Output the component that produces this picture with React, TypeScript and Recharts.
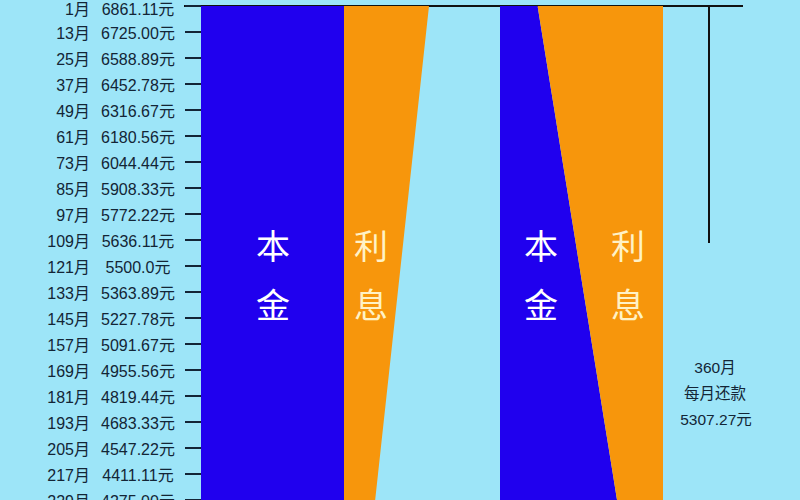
import { AreaChart, Area, XAxis, YAxis } from "recharts";

// 等额本金: month number and the monthly payment printed beside it
const months = [1, 13, 25, 37, 49, 61, 73, 85, 97, 109, 121, 133, 145, 157, 169, 181, 193, 205, 217, 229];
const payments = [
  6861.11, 6725.0, 6588.89, 6452.78, 6316.67, 6180.56, 6044.44, 5908.33, 5772.22, 5636.11,
  5500.0, 5363.89, 5227.78, 5091.67, 4955.56, 4819.44, 4683.33, 4547.22, 4411.11, 4275.0,
];
const paymentLabels = [
  "6861.11", "6725.00", "6588.89", "6452.78", "6316.67", "6180.56", "6044.44", "5908.33", "5772.22", "5636.11",
  "5500.0", "5363.89", "5227.78", "5091.67", "4955.56", "4819.44", "4683.33", "4547.22", "4411.11", "4275.00",
];
const monthlyPrincipal = 2777.78;

// 等额本息: fixed payment, principal part
const fixedPayment = 5307.27;
const fixedPrincipal = [
  1224, 1360, 1496, 1632, 1770, 1905, 2040, 2178, 2313, 2450,
  2585, 2720, 2858, 2993, 3130, 3265, 3400, 3538, 3674, 3810,
];

const leftData = months.map((m, i) => ({
  month: m,
  principal: monthlyPrincipal,
  interest: payments[i] - monthlyPrincipal,
}));

const rightData = months.map((m, i) => ({
  month: m,
  principal: fixedPrincipal[i],
  interest: fixedPayment - fixedPrincipal[i],
}));

const BLUE = "#2000ee";
const ORANGE = "#f7960c";
const BG = "#9de5f8";
const INK = "#132536";
const FONT = "'Liberation Sans', 'Noto Sans CJK SC', sans-serif";
const CJK = "'Noto Sans CJK SC', sans-serif";

const H = 500;
const MARGIN = { top: 6, right: 0, bottom: 0, left: 0 };

function MonthTick(props: any) {
  const { x, index } = props;
  // keep the first label inside the page
  const y = Math.max(props.y + 1.5, 9);
  return (
    <g>
      <text x={x - 93} y={y} dy="0.36em" textAnchor="end" fontSize={16} fill={INK} fontFamily={FONT}>
        {months[index]}月
      </text>
      <text x={x - 45} y={y} dy="0.36em" textAnchor="middle" fontSize={16} fill={INK} fontFamily={FONT}>
        {paymentLabels[index]}元
      </text>
    </g>
  );
}

export default function App() {
  const pos = (left: number, width: number) => ({ position: "absolute" as const, left, top: 0, width, height: H });
  return (
    <div style={{ position: "absolute", left: 0, top: 0, width: 800, height: H, background: BG, overflow: "hidden" }}>
      <svg width={800} height={H} style={{ position: "absolute", left: 0, top: 0 }}>
        <line x1={184} x2={743} y1={6} y2={6} stroke="#111" strokeWidth={2} />
        <line x1={709} x2={709} y1={6} y2={243} stroke="#111" strokeWidth={2} />
      </svg>

      <div style={pos(0, 344)}>
        <AreaChart width={344} height={H} data={leftData} layout="vertical" margin={MARGIN}>
          <XAxis type="number" hide domain={[0, monthlyPrincipal]} />
          <YAxis
            type="number"
            dataKey="month"
            domain={[1, 229]}
            ticks={months}
            width={201}
            axisLine={false}
            tickSize={16}
            tickMargin={2}
            tickLine={{ stroke: INK, strokeWidth: 2 }}
            tick={<MonthTick />}
            interval={0}
          />
          <Area dataKey="principal" type="linear" stroke="none" fill={BLUE} fillOpacity={1} isAnimationActive={false} />
        </AreaChart>
      </div>

      <div style={pos(344, 85)}>
        <AreaChart width={85} height={H} data={leftData} layout="vertical" margin={MARGIN}>
          <XAxis type="number" hide domain={[0, "dataMax"]} />
          <YAxis type="number" dataKey="month" hide domain={[1, 229]} />
          <Area dataKey="interest" type="linear" stroke="none" fill={ORANGE} fillOpacity={1} isAnimationActive={false} />
        </AreaChart>
      </div>

      <div style={pos(500, 163)}>
        <AreaChart width={163} height={H} data={rightData} layout="vertical" margin={MARGIN}>
          <XAxis type="number" hide domain={[0, fixedPayment]} />
          <YAxis type="number" dataKey="month" hide domain={[1, 229]} />
          <Area dataKey="principal" stackId="a" type="linear" stroke="none" fill={BLUE} fillOpacity={1} isAnimationActive={false} />
          <Area dataKey="interest" stackId="a" type="linear" stroke="none" fill={ORANGE} fillOpacity={1} isAnimationActive={false} />
        </AreaChart>
      </div>

      <svg width={800} height={H} style={{ position: "absolute", left: 0, top: 0, pointerEvents: "none" }}>
        <g fontFamily={CJK} fontSize={34} textAnchor="middle">
          <text x={273} y={259} fill="#ffffff">本</text>
          <text x={273} y={318} fill="#ffffff">金</text>
          <text x={371} y={259} fill="#fff2c6">利</text>
          <text x={371} y={318} fill="#fff2c6">息</text>
          <text x={541} y={259} fill="#ffffff">本</text>
          <text x={541} y={318} fill="#ffffff">金</text>
          <text x={628} y={259} fill="#fff2c6">利</text>
          <text x={628} y={318} fill="#fff2c6">息</text>
        </g>
        <g fontFamily={FONT} fontSize={15.5} fill={INK} textAnchor="middle">
          <text x={715} y={373}>360月</text>
          <text x={715} y={399}>每月还款</text>
          <text x={716} y={425}>5307.27元</text>
        </g>
      </svg>
    </div>
  );
}
